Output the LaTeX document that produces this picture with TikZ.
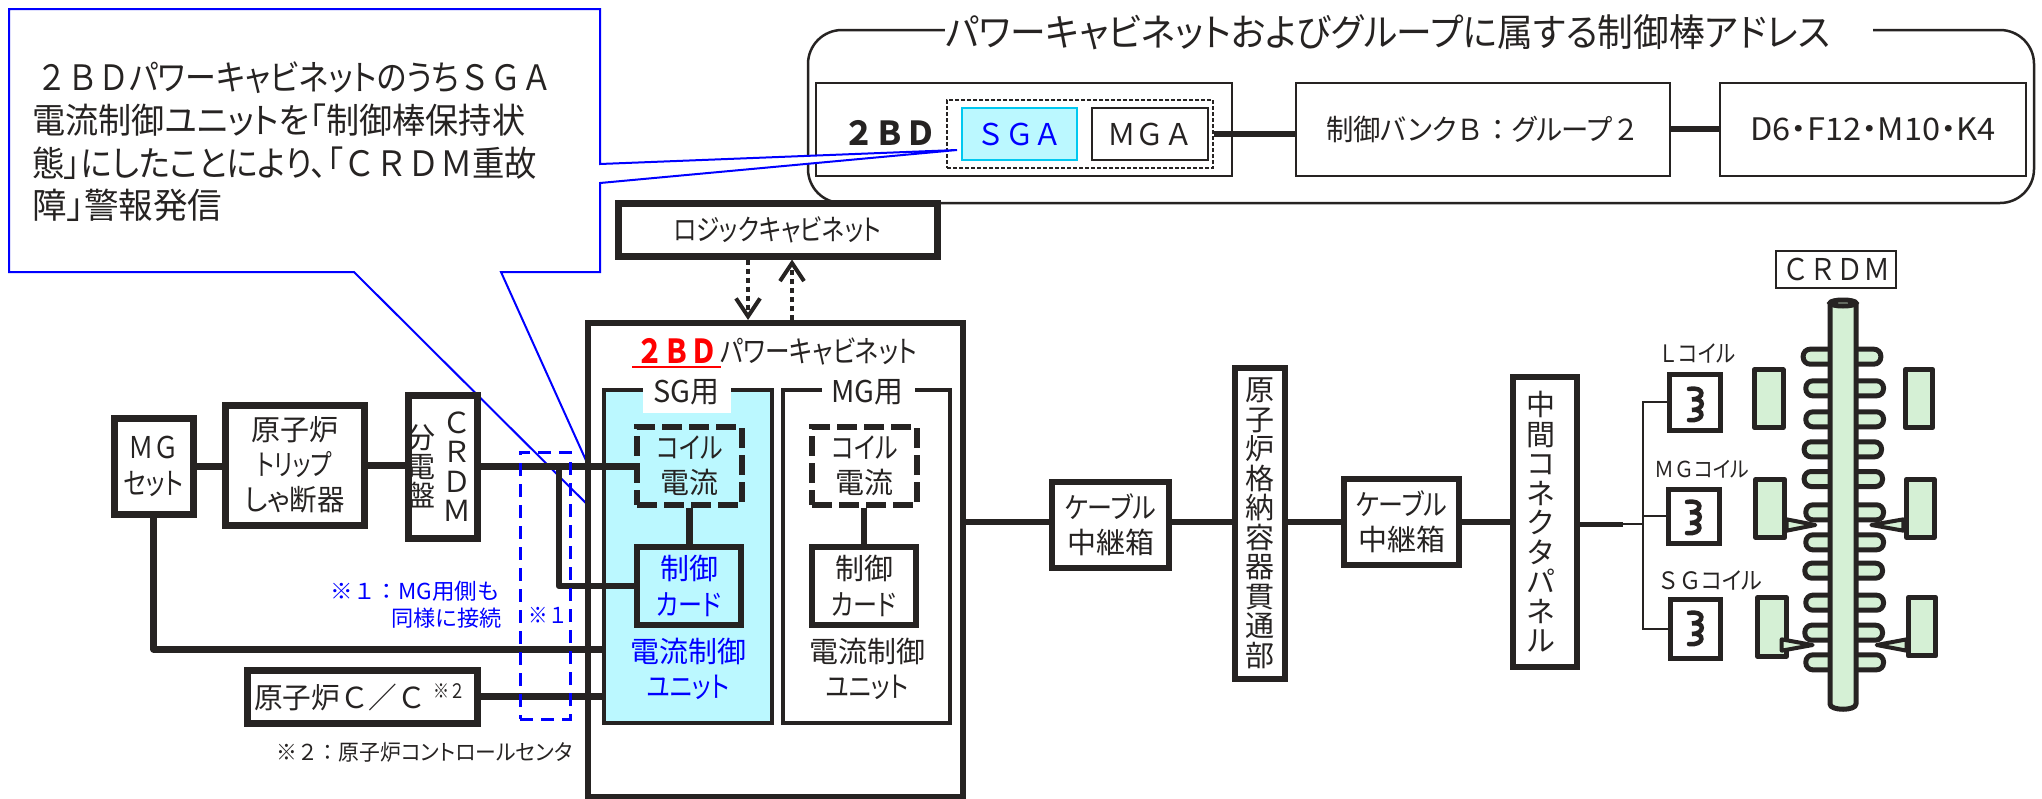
\documentclass[tikz,border=0pt]{standalone}
\usepackage{fontspec}
\usetikzlibrary{arrows.meta}
\setmainfont{Noto Sans CJK JP}[RawFeature={+palt}]
\newfontfamily\fw{Noto Sans CJK JP}
\definecolor{ink}{HTML}{262322}
\definecolor{pblue}{HTML}{0000FF}
\definecolor{pcyan}{HTML}{BBF8FF}
\definecolor{pcyanb}{HTML}{00C8F0}
\definecolor{pgreen}{HTML}{D5F0D5}
\newcommand\bx[7]{\pgfmathsetmacro\cx{(#2+#4)/2}\pgfmathsetmacro\cy{(#3+#5)/2}\pgfmathsetmacro\wx{abs(#4-#2)}\pgfmathsetmacro\hy{abs(#5-#3)}\node[#6,minimum width=\wx pt,minimum height=\hy pt] (#1) at (\cx,\cy) {#7};}
\newsavebox\fitbox
\newcommand\fitx[2]{\sbox\fitbox{#2}\pgfmathsetmacro\sxf{#1/\the\wd\fitbox}\scalebox{\sxf}[1]{\usebox\fitbox}}
\newcommand\fsz[2]{\fontsize{#1}{#2}\selectfont}
\newcommand\coilsym[2]{\draw[line width=4.5pt,ink,line cap=round] (#1,#2) .. controls (#1+16,#2-3) and (#1+16,#2+10) .. (#1+3,#2+10.5) .. controls (#1+16,#2+8) and (#1+16,#2+21) .. (#1+3,#2+21) .. controls (#1+16,#2+19) and (#1+16,#2+33) .. (#1,#2+31);}
\tikzset{
 box/.style={draw=ink,fill=white,inner sep=0pt,align=center,text=ink},
 b2/.style={box,line width=2.5pt},
 b4/.style={box,line width=4pt},
 b6/.style={box,line width=6pt},
 b7/.style={box,line width=7pt},
 lbl/.style={inner sep=0pt,align=center,text=ink},
 w6/.style={draw=ink,line width=6.5pt},
 w7/.style={draw=ink,line width=7pt},
 w2/.style={draw=ink,line width=2pt},
 bluel/.style={draw=pblue,line width=2pt},
 part/.style={draw=ink,line width=5pt,fill=pgreen},
 dotarrow/.style={draw=ink,line width=4pt,dash pattern=on 5pt off 4pt,-{Straight Barb[length=18pt,width=24pt,line width=4pt]}},
}
\begin{document}
\begin{tikzpicture}[x=1pt,y=-1pt]
\useasboundingbox (0,0) rectangle (2042,798);
\clip (0,0) rectangle (2042,798);
% top panel
\draw[ink,line width=2.5pt,rounded corners=34pt] (808,30) rectangle (2034,203);
\bx{titlegap}{945}{12}{1873}{52}{fill=white,inner sep=0pt}{}
\node[lbl,anchor=west,font=\fsz{38}{44}] (title) at (945,32) {\fitx{885}{パワーキャビネットおよびグループに属する制御棒アドレス}};
\bx{p2bd}{816}{83}{1232}{176}{b2}{}
\bx{bank}{1296}{83}{1670}{176}{b2,font=\fsz{29}{36}}{\fitx{314}{制御バンク{\fw Ｂ：}グループ{\fw ２}}}
\bx{addr}{1720}{83}{2026}{176}{b2,font=\fsz{31}{36}}{\fitx{245}{D6・F12・M10・K4}}
\bx{dbox}{947}{100}{1213}{168}{draw=ink,line width=2.5pt,dash pattern=on 4pt off 2pt,inner sep=0pt}{}
\node[lbl,font=\fsz{33}{36}\bfseries\fw] (l2bd) at (890,133) {\fitx{93}{２ＢＤ}};
\bx{sga}{962}{108}{1077}{160}{draw=pcyanb,fill=pcyan,line width=2.5pt,text=pblue,font=\fsz{30}{32}\fw,inner sep=0pt}{\fitx{86}{ＳＧＡ}}
\bx{mga}{1092}{108}{1208}{160}{b2,font=\fsz{30}{32}\fw}{\fitx{86}{ＭＧＡ}}
\draw[w6] (dbox.east) -- (dbox.east -| bank.west);
\draw[w6] (bank.east |- 0,129) -- (addr.west |- 0,129);
% callout
\draw[bluel,fill=white,line join=miter] (9,9) -- (600,9) -- (600,164) -- (957,150) -- (600,183) -- (600,272) -- (501,272) -- (621,538) -- (354,272) -- (9,272) -- cycle;
\node[lbl,anchor=west,font=\fsz{35}{42}] (cl1) at (36,78) {\fitx{516}{\fw ２ＢＤ\rmfamily パワーキャビネットのうち\fw ＳＧＡ}};
\node[lbl,anchor=west,font=\fsz{35}{42}] (cl2) at (32,120) {\fitx{493}{電流制御ユニットを「制御棒保持状}};
\node[lbl,anchor=west,font=\fsz{35}{42}] (cl3) at (32,163) {\fitx{505}{態」にしたことにより、「\fw ＣＲＤＭ\rmfamily 重故}};
\node[lbl,anchor=west,font=\fsz{35}{42}] (cl4) at (32,205) {\fitx{190}{障」警報発信}};
% logic + cabinet
\bx{logic}{618}{203}{937}{256}{b7,font=\fsz{29}{34}}{\fitx{208}{ロジックキャビネット}}
\bx{cab}{588}{323}{963}{797}{b6}{}
\coordinate (a1) at (748,300);
\coordinate (a2) at (792,300);
\draw[dotarrow] (a1 |- logic.south) -- (a1 |- cab.north);
\draw[dotarrow] (a2 |- cab.north) -- (a2 |- logic.south);
\node[lbl,anchor=west,font=\fsz{33}{36}\bfseries\fw,text=red] (c2bd) at (636,351) {\fitx{81}{２ＢＤ}};
\draw[red,line width=1.5pt] (632,367) -- (721,367);
\node[lbl,anchor=west,font=\fsz{30}{36}] (cpow) at (720,351) {\fitx{197}{パワーキャビネット}};
% units
\bx{sgu}{604}{390}{772}{723}{box,fill=pcyan,line width=4pt}{}
\bx{mgu}{783}{390}{950}{723}{b4}{}
\bx{sggap}{643}{378}{731}{413}{fill=white,inner sep=0pt}{}
\bx{mggap}{822}{380}{915}{405}{fill=white,inner sep=0pt}{}
\node[lbl,font=\fsz{30}{36}] (sglab) at (686,392) {\fitx{66}{SG用}};
\node[lbl,font=\fsz{30}{36}] (mglab) at (867,392) {\fitx{72}{MG用}};
\bx{sgcoil}{637}{427}{742}{505}{draw=ink,line width=6pt,dash pattern=on 20pt off 7pt,inner sep=0pt,align=center,font=\fsz{29}{35},text=ink}{\fitx{66}{コイル}\\電流}
\bx{mgcoil}{812}{427}{917}{505}{draw=ink,line width=6pt,dash pattern=on 20pt off 7pt,inner sep=0pt,align=center,font=\fsz{29}{35},text=ink}{\fitx{66}{コイル}\\電流}
\bx{sgcard}{637}{547}{741}{625}{draw=ink,line width=6.5pt,inner sep=0pt,align=center,font=\fsz{29}{36},text=pblue}{制御\\\fitx{65}{カード}}
\bx{mgcard}{812}{547}{916}{625}{b6,line width=6.5pt,font=\fsz{29}{36}}{制御\\\fitx{65}{カード}}
\draw[w6] (sgcoil.south) -- (sgcoil.south |- sgcard.north);
\draw[w6] (mgcoil.south -| mgcard.north) -- (mgcard.north);
\node[lbl,font=\fsz{29}{35.5},text=pblue] (sgtxt) at (688,669) {電流制御\\\fitx{83}{ユニット}};
\node[lbl,font=\fsz{29}{35.5}] (mgtxt) at (867,669) {電流制御\\\fitx{83}{ユニット}};
% left boxes
\bx{mg}{114}{418}{193}{514}{b7,font=\fsz{30}{36}}{\fitx{51}{\fw ＭＧ}\\\fitx{60}{セット}}
\bx{trip}{225}{405}{364}{525}{b7,font=\fsz{29}{35}}{原子炉\\\fitx{75}{トリップ}\\\fitx{100}{しゃ断器}}
\bx{board}{408}{395}{477}{538}{b7}{}
\node[lbl,font=\fsz{29}{29.5}\fw] (bd1) at (457,466.5) {Ｃ\\Ｒ\\Ｄ\\Ｍ};
\node[lbl,font=\fsz{29}{29}\fw] (bd2) at (421,466) {分\\電\\盤};
\bx{cc}{247}{670}{477}{723}{b7}{}
\node[lbl,anchor=west,font=\fsz{29}{36}] (cctxt) at (254,697) {\fitx{172}{原子炉{\fw Ｃ／Ｃ}}};
\node[lbl,anchor=west,font=\fsz{20}{22}] (ccsup) at (433,691) {\fitx{32}{\fw ※２}};
\node[lbl,anchor=west,font=\fsz{22}{26}] (note2) at (276,752) {\fitx{296}{{\fw ※２：}原子炉コントロールセンタ}};
\node[lbl,anchor=east,text=pblue,font=\fsz{22}{26}] (n1a) at (499,591) {\fitx{168}{{\fw ※１：}MG用側も}};
\node[lbl,anchor=east,text=pblue,font=\fsz{22}{26}] (n1b) at (502,618) {\fitx{110}{同様に接続}};
\node[lbl,text=pblue,font=\fsz{22}{26}\fw] (n1c) at (548,615) {\fitx{39}{※１}};
% wires
\coordinate (j) at (559,466);
\draw[w7] (mg.east) -- (mg.east -| trip.west);
\draw[w7] (trip.east) -- (trip.east -| board.west);
\draw[w6] (board.east) -- (board.east -| sgcoil.west);
\draw[w6,line join=round] (j) |- (sgcard.west);
\coordinate (u1) at (604,649);
\draw[w7,line join=round] (mg.south) |- (u1);
\draw[w6] (cc.east) -- (cc.east -| sgu.west);
\bx{d1}{520}{452}{570}{719}{draw=pblue,line width=3pt,dash pattern=on 13pt off 8pt,inner sep=0pt}{}
% right chain
\bx{cb1}{1052}{482}{1169}{568}{b6,font=\fsz{29}{35}}{\fitx{92}{ケーブル}\\中継箱}
\bx{pen}{1235}{368}{1285}{679}{b6,font=\fsz{29}{29.5}\fw}{原\\子\\炉\\格\\納\\容\\器\\貫\\通\\部}
\bx{cb2}{1344}{479}{1459}{565}{b6,font=\fsz{29}{35}}{\fitx{92}{ケーブル}\\中継箱}
\bx{pnl}{1513}{377}{1577}{667}{b6}{}
\node[lbl,font=\fsz{29}{29.5}\fw] (pnltxt) at (1541,522) {中\\間\\コ\\ネ\\ク\\タ\\パ\\ネ\\ル};
\coordinate (k1) at (963,522);
\draw[w6] (k1) -- (cb1.west |- k1);
\draw[w6] (cb1.east |- k1) -- (pen.west |- k1);
\draw[w6] (pen.east |- k1) -- (cb2.west |- k1);
\draw[w6] (cb2.east |- k1) -- (pnl.west |- k1);
% coils
\bx{lc}{1669}{374}{1720}{430}{b4,line width=5pt}{}
\bx{mc}{1668}{489}{1719}{543}{b4,line width=5pt}{}
\bx{sc}{1670}{599}{1720}{658}{b4,line width=5pt}{}
\coilsym{1689}{389}
\coilsym{1687}{502}
\coilsym{1689}{613}
\node[lbl,anchor=west,font=\fsz{24}{28}] (ll) at (1658,353) {\fitx{77}{{\fw Ｌ}コイル}};
\node[lbl,anchor=west,font=\fsz{22}{26}] (lm) at (1654,469) {\fitx{95}{{\fw ＭＧ}コイル}};
\node[lbl,anchor=west,font=\fsz{24}{28}] (ls) at (1657,580) {\fitx{105}{{\fw ＳＧ}コイル}};
\coordinate (t1) at (1623,524);
\coordinate (t2) at (1643,524);
\draw[draw=ink,line width=5pt] (pnl.east |- t1) -- (t1);
\draw[w2] (t1) -- (t2);
\draw[w2] (lc.west) -| (t2);
\draw[w2] (sc.west) -| (t2);
\draw[w2] (mc.west) -- (mc.west -| t2);
% CRDM
\bx{crdm}{1776}{251}{1896}{288}{b2,font=\fsz{30}{32}\fw}{\fitx{108}{ＣＲＤＭ}}
\foreach \yy/\l/\r in {350/722/970,445/730/978,538/730/978,628/725/972,717/725/975,817/730/978,907/730/978,992/727/975,1088/730/978,1178/727/975,1267/730/978}{
 \draw[part,rounded corners=7pt] ({\l/3+1560+2.5},{240+\yy/3-7.5}) rectangle ({\r/3+1560-2.5},{240+\yy/3+7.5});
}
\draw[part,line join=round] (1830,303) -- (1830,704) .. controls (1830,711) and (1856,711) .. (1856,704) -- (1856,303);
\draw[part] (1843,303) ellipse [x radius=13,y radius=3];
\foreach \a/\b/\c/\d in {575/382/677/570,1028/381/1126/570,580/711/682/900,1032/710/1130/900,585/1066/687/1256,1037/1065/1135/1255}{
 \draw[part,line join=round] ({\a/3+1560+2.5},{240+\b/3+2.5}) rectangle ({\c/3+1560-2.5},{240+\d/3-2.5});
}
\foreach \a/\b/\c/\d in {680/838/872/766,1030/838/872/934,665/1198/1232/758,1040/1198/1232/950}{
 \draw[ink,line width=4pt,fill=pgreen,line join=round] ({\a/3+1560},{240+\b/3}) -- ({\d/3+1560},{240+(\b+\c)/6}) -- ({\a/3+1560},{240+\c/3}) -- cycle;
}
\end{tikzpicture}
\end{document}
